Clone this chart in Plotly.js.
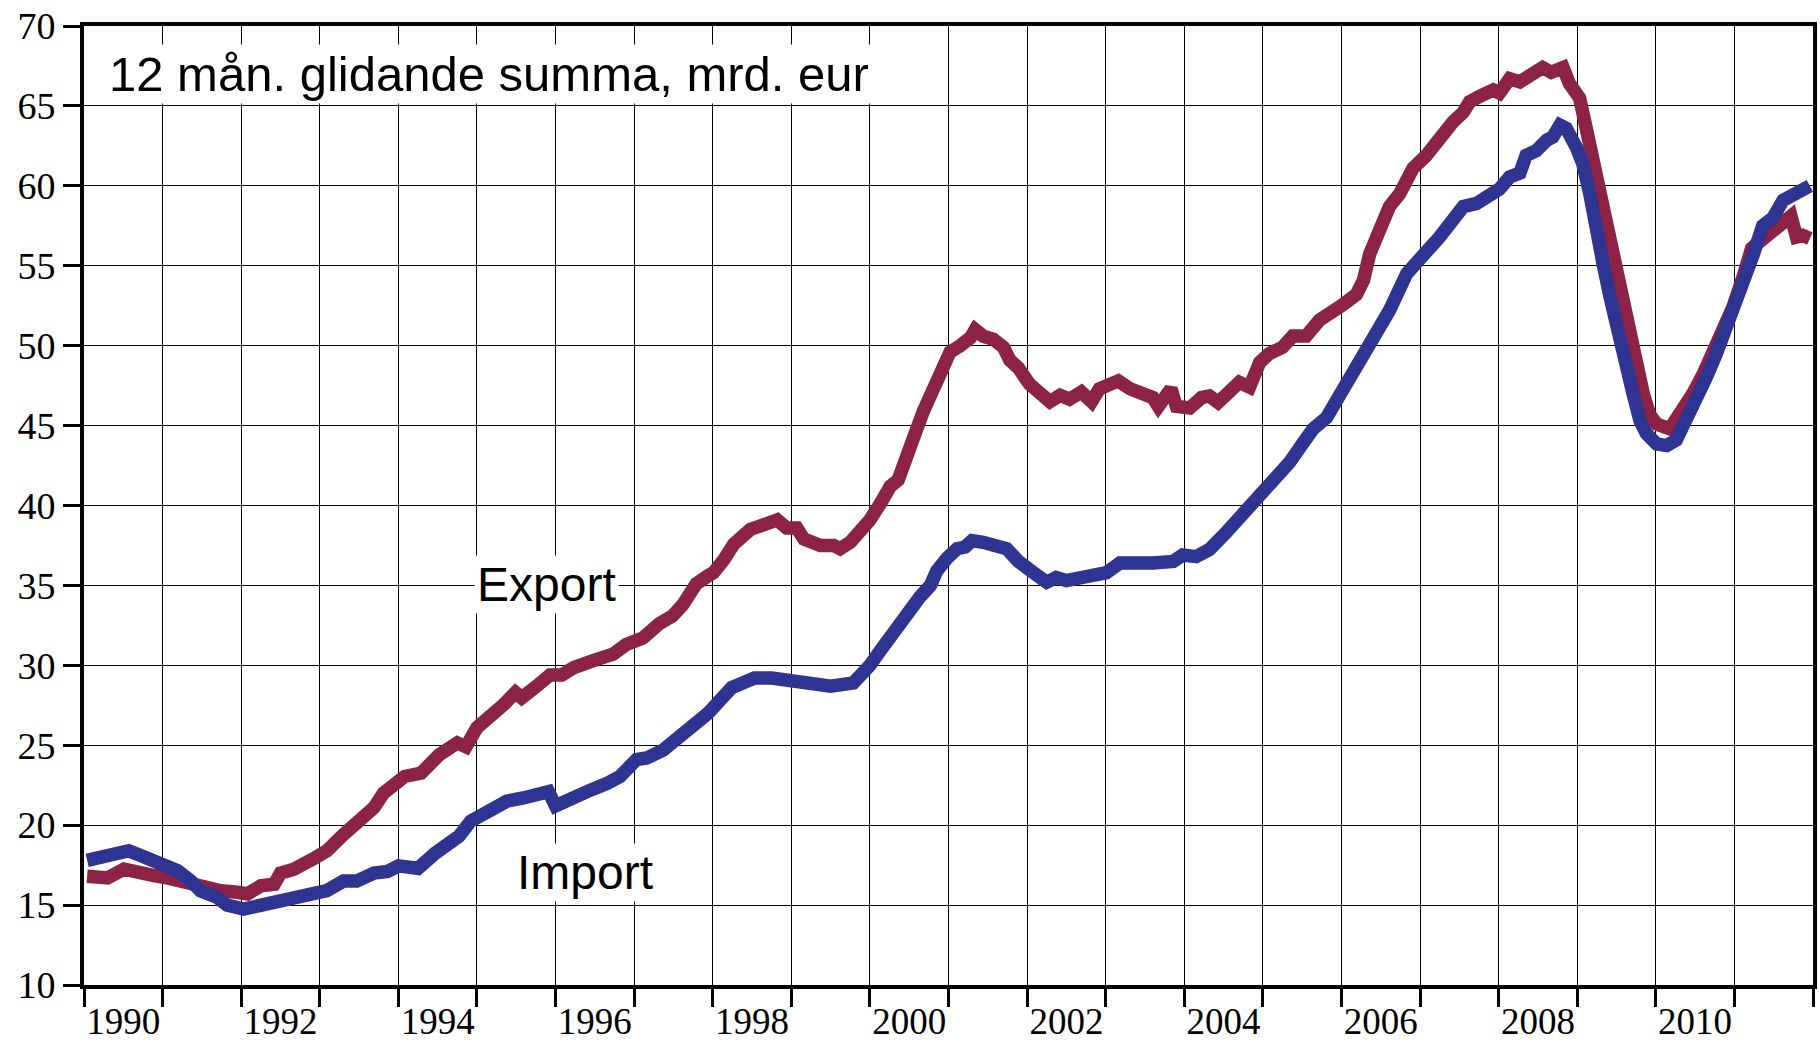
<!DOCTYPE html>
<html>
<head>
<meta charset="utf-8">
<script src="https://cdn.plot.ly/plotly-3.0.1.min.js"></script>
<style>
html,body{margin:0;padding:0;background:#fff;}
#chart{width:1820px;height:1043px;}
</style>
</head>
<body>
<div id="chart"></div>
<script>
// Export, 12-month moving sum, billion EUR
const exportYears = [1990.04,1990.13,1990.3,1990.51,1990.68,1990.89,1991.06,1991.27,1991.48,1991.74,1991.95,1992.08,1992.25,1992.42,1992.5,1992.67,1992.92,1993.09,1993.3,1993.52,1993.69,1993.81,1994.0,1994.08,1994.29,1994.52,1994.75,1994.86,1995.0,1995.17,1995.34,1995.49,1995.57,1995.76,1995.93,1996.08,1996.23,1996.48,1996.73,1996.9,1997.11,1997.32,1997.49,1997.62,1997.79,1997.94,1998.01,1998.14,1998.27,1998.48,1998.69,1998.82,1998.94,1999.07,1999.16,1999.28,1999.37,1999.54,1999.62,1999.75,1999.88,2000.0,2000.13,2000.26,2000.36,2000.43,2000.56,2000.68,2000.81,2000.92,2001.02,2001.15,2001.28,2001.34,2001.44,2001.57,2001.7,2001.78,2001.89,2002.03,2002.16,2002.29,2002.42,2002.54,2002.69,2002.82,2002.92,2003.05,2003.16,2003.31,2003.47,2003.6,2003.67,2003.77,2003.83,2003.9,2004.07,2004.22,2004.32,2004.43,2004.58,2004.7,2004.83,2004.96,2005.08,2005.25,2005.38,2005.55,2005.72,2005.89,2006.0,2006.19,2006.28,2006.36,2006.47,2006.61,2006.74,2006.91,2007.08,2007.25,2007.42,2007.55,2007.63,2007.76,2007.93,2008.01,2008.14,2008.27,2008.39,2008.56,2008.67,2008.82,2008.9,2009.03,2009.11,2009.2,2009.28,2009.37,2009.46,2009.58,2009.67,2009.75,2009.84,2009.92,2010.01,2010.18,2010.35,2010.47,2010.6,2010.73,2010.86,2010.98,2011.11,2011.22,2011.32,2011.49,2011.62,2011.72,2011.79,2011.87,2011.96];
const exportValues = [16.8,16.8,16.7,17.25,17.15,16.85,16.7,16.4,16.1,15.9,15.8,15.7,16.2,16.3,17.0,17.25,17.9,18.4,19.4,20.4,21.1,22.0,22.8,23.05,23.26,24.4,25.15,24.9,26.1,26.7,27.55,28.3,27.97,28.7,29.4,29.4,29.85,30.3,30.7,31.3,31.7,32.6,33.1,33.8,35.1,35.6,35.8,36.6,37.6,38.5,38.8,39.1,38.6,38.6,37.9,37.7,37.5,37.5,37.3,37.7,38.4,39.1,40.1,41.2,41.6,42.8,44.3,45.9,47.2,48.6,49.6,50.0,50.5,51.0,50.6,50.4,49.9,49.1,48.6,47.6,47.0,46.5,46.9,46.65,47.1,46.5,47.3,47.5,47.8,47.3,47.1,46.75,46.2,46.75,47.3,46.2,46.1,46.75,46.85,46.45,47.1,47.7,47.4,48.95,49.5,49.9,50.6,50.6,51.6,52.3,52.5,53.2,54.1,55.75,57.2,58.7,59.5,61.1,61.9,63.1,64.0,64.6,65.25,65.6,66.0,65.8,66.7,66.5,66.9,67.4,67.1,67.4,66.4,65.5,63.7,61.6,59.9,57.8,55.7,52.8,50.5,48.6,47.0,45.7,45.1,44.8,45.9,47.0,48.2,49.5,50.9,52.4,54.3,56.1,56.5,57.2,57.6,58.1,56.8,56.9,56.7];

// Import, 12-month moving sum, billion EUR
const importYears = [1990.04,1990.13,1990.2,1990.38,1990.57,1990.72,1990.97,1991.19,1991.36,1991.48,1991.69,1991.82,1992.03,1992.25,1992.46,1992.71,1992.92,1993.09,1993.3,1993.47,1993.69,1993.86,1994.0,1994.25,1994.47,1994.77,1994.92,1995.0,1995.17,1995.38,1995.59,1995.76,1995.91,1996.0,1996.14,1996.4,1996.65,1996.82,1997.03,1997.16,1997.37,1997.58,1997.79,1997.94,1998.24,1998.53,1998.75,1998.97,1999.27,1999.5,1999.79,1999.92,2000.0,2000.13,2000.34,2000.47,2000.64,2000.77,2000.85,2000.98,2001.11,2001.21,2001.3,2001.44,2001.57,2001.74,2001.89,2002.02,2002.08,2002.25,2002.37,2002.5,2002.67,2002.84,2003.01,2003.18,2003.39,2003.6,2003.86,2003.98,2004.15,2004.32,2004.53,2004.7,2004.87,2005.0,2005.17,2005.34,2005.51,2005.64,2005.81,2005.93,2006.02,2006.19,2006.32,2006.44,2006.61,2006.83,2007.0,2007.12,2007.25,2007.38,2007.55,2007.72,2007.84,2008.01,2008.14,2008.27,2008.35,2008.48,2008.61,2008.69,2008.78,2008.86,2008.99,2009.07,2009.16,2009.25,2009.33,2009.42,2009.5,2009.58,2009.71,2009.8,2009.88,2010.01,2010.14,2010.26,2010.39,2010.52,2010.64,2010.77,2010.9,2011.03,2011.15,2011.24,2011.36,2011.49,2011.62,2011.75,2011.87,2011.96];
const importValues = [17.8,17.9,18.0,18.3,18.4,18.1,17.56,17.15,16.5,15.9,15.5,15.0,14.75,14.96,15.27,15.4,15.8,15.9,16.5,16.5,17.0,17.1,17.45,17.3,18.25,19.3,20.25,20.5,21.0,21.5,21.7,21.8,22.1,21.2,21.6,22.1,22.6,23.05,24.1,24.2,24.7,25.5,26.4,27.0,28.6,29.2,29.2,29.1,28.8,28.7,28.9,29.5,30.0,30.9,32.4,33.4,34.3,35.0,35.9,36.7,37.3,37.4,37.8,37.7,37.5,37.3,36.5,35.9,35.8,35.2,35.5,35.3,35.4,35.6,35.8,36.4,36.3,36.4,36.5,36.9,36.8,37.25,38.3,39.2,40.2,40.9,41.7,42.7,43.9,44.8,45.5,46.5,47.2,48.4,49.4,50.7,52.2,54.5,55.3,56.1,56.8,57.5,58.7,58.9,59.3,59.8,60.55,60.8,61.9,62.2,62.85,63.06,63.8,63.6,62.4,61.4,59.5,57.6,55.1,53.0,51.1,49.1,47.0,45.3,44.5,43.85,43.75,44.1,45.3,46.8,48.0,49.5,51.1,52.6,54.1,55.7,57.5,58.0,59.1,59.4,59.7,60.0];

// Axis ticks and labels
const yearTicks = [1990,1991,1992,1993,1994,1995,1996,1997,1998,1999,2000,2001,2002,2003,2004,2005,2006,2007,2008,2009,2010,2011,2012];
const yearLabels = ["1990","1992","1994","1996","1998","2000","2002","2004","2006","2008","2010"];
const yTicks = [10,15,20,25,30,35,40,45,50,55,60,65,70];

const titleText = "12 mån. glidande summa, mrd. eur";
const exportLabel = "Export";
const importLabel = "Import";

const labelPositions = yearLabels.map(s => Number(s) + 0.5);
const serif = 'Liberation Serif, Times New Roman, serif';
const sans = 'Liberation Sans, Arial, sans-serif';

const exportTrace = {
  x: exportYears, y: exportValues, type: 'scatter', mode: 'lines',
  line: {color: '#8C2346', width: 13.5}, hoverinfo: 'skip', name: exportLabel
};
const importTrace = {
  x: importYears, y: importValues, type: 'scatter', mode: 'lines',
  line: {color: '#2E3491', width: 13.5}, hoverinfo: 'skip', name: importLabel
};

const layout = {
  width: 1820, height: 1043,
  margin: {l: 84, r: 7, t: 26, b: 58},
  paper_bgcolor: '#ffffff', plot_bgcolor: '#ffffff',
  showlegend: false,
  xaxis: {
    range: [1990, 2012],
    showline: true, linewidth: 4, linecolor: '#000', mirror: true,
    zeroline: false, showgrid: false,
    tickmode: 'array', tickvals: labelPositions, ticktext: yearLabels,
    ticks: 'outside', ticklen: 18, tickcolor: 'rgba(0,0,0,0)',
    ticklabelstandoff: -17,
    tickfont: {family: serif, size: 37, color: '#000'},
    minor: {
      tickmode: 'array', tickvals: yearTicks,
      ticks: 'outside', ticklen: 18, tickwidth: 3, tickcolor: '#000',
      showgrid: true, gridcolor: '#000', gridwidth: 1
    }
  },
  yaxis: {
    range: [10, 70],
    showline: true, linewidth: 4, linecolor: '#000', mirror: true,
    zeroline: false, showgrid: true, gridcolor: '#000', gridwidth: 1,
    tickmode: 'array', tickvals: yTicks, ticktext: yTicks.map(String),
    ticks: 'outside', ticklen: 17, tickwidth: 3, tickcolor: '#000',
    tickfont: {family: serif, size: 38, color: '#000'}
  },
  annotations: [
    {text: titleText, xref: 'paper', yref: 'paper', x: 0.013, y: 0.95,
     xanchor: 'left', yanchor: 'middle', showarrow: false, bgcolor: '#fff', borderpad: 2,
     font: {family: sans, size: 49, color: '#000'}},
    {text: exportLabel, xref: 'paper', yref: 'paper', x: 0.2255, y: 0.418,
     xanchor: 'left', yanchor: 'middle', showarrow: false, bgcolor: '#fff', borderpad: 2,
     font: {family: sans, size: 48, color: '#000'}},
    {text: importLabel, xref: 'paper', yref: 'paper', x: 0.2485, y: 0.117,
     xanchor: 'left', yanchor: 'middle', showarrow: false, bgcolor: '#fff', borderpad: 2,
     font: {family: sans, size: 48, color: '#000'}}
  ]
};

Plotly.newPlot('chart', [exportTrace, importTrace], layout, {displayModeBar: false, staticPlot: true});
</script>
</body>
</html>
